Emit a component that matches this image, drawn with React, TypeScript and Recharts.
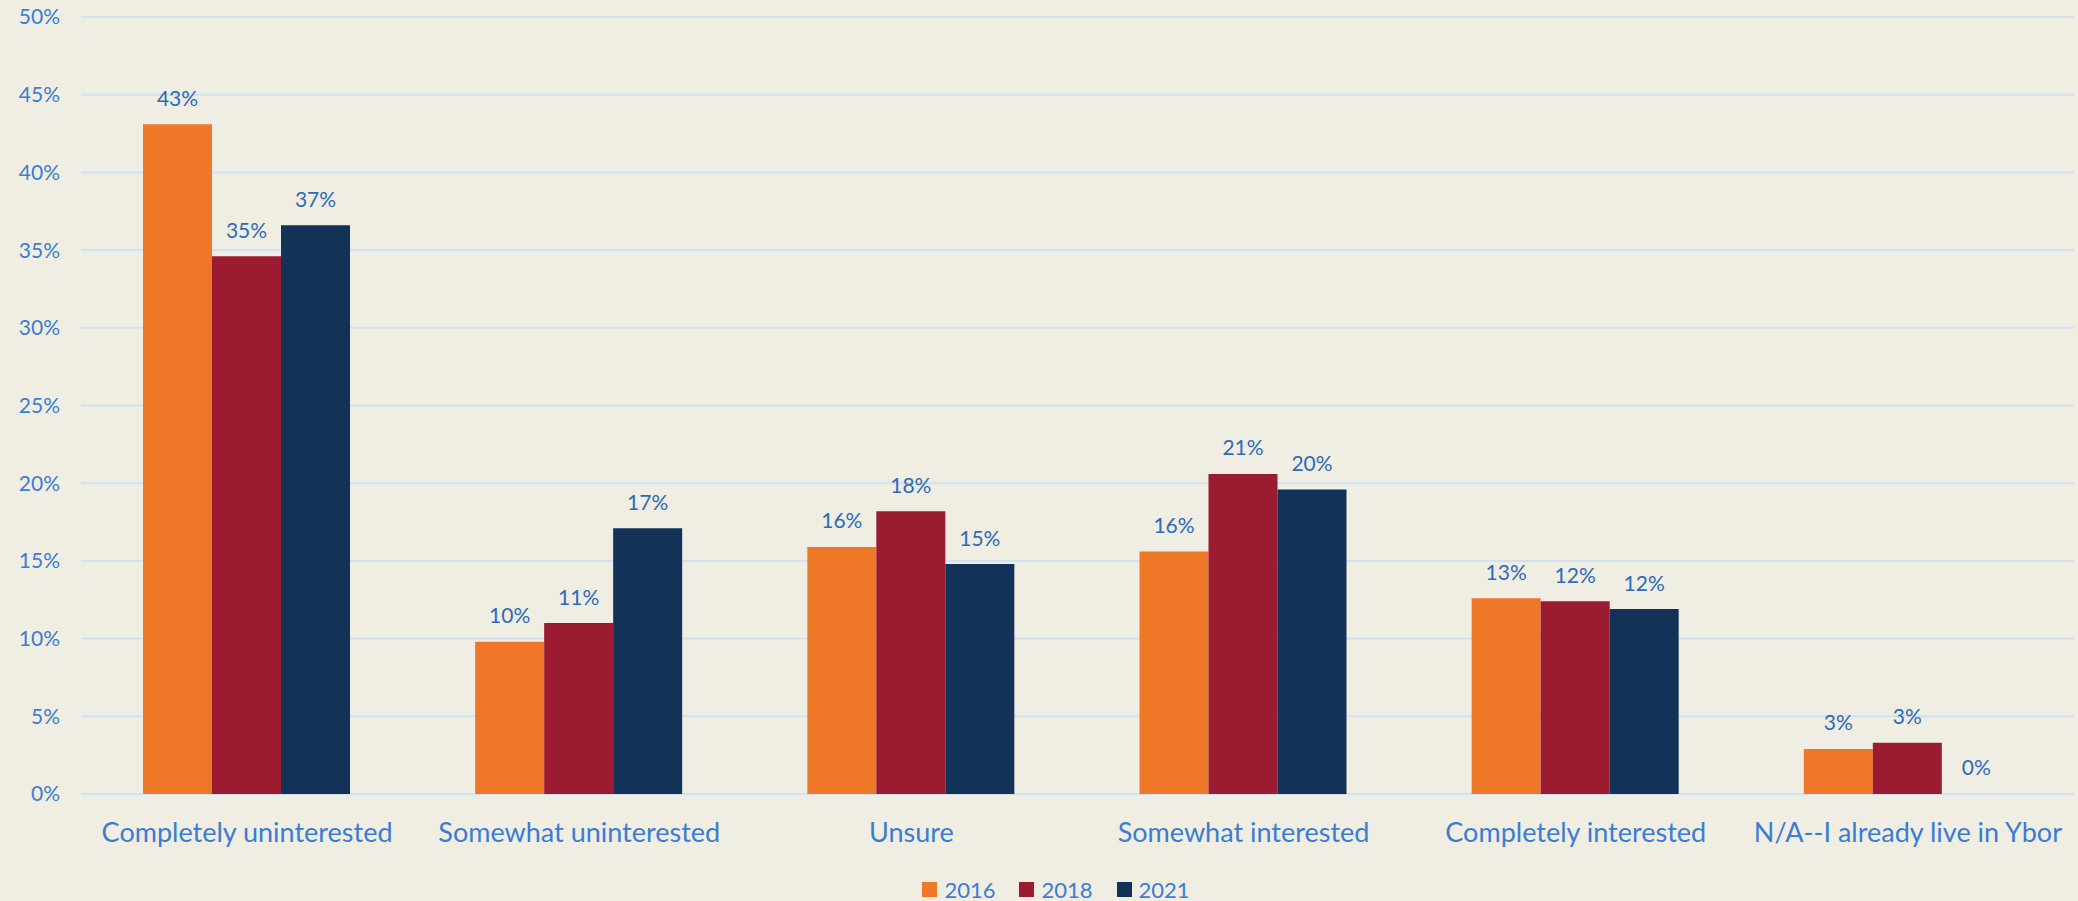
import { Bar, BarChart, CartesianGrid, LabelList, Legend, XAxis, YAxis } from "recharts";

const categories = [
  "Completely uninterested",
  "Somewhat uninterested",
  "Unsure",
  "Somewhat interested",
  "Completely interested",
  "N/A--I already live in Ybor"
];
const y2016 = [43.1, 9.8, 15.9, 15.6, 12.6, 2.9];
const y2018 = [34.6, 11.0, 18.2, 20.6, 12.4, 3.3];
const y2021 = [36.6, 17.1, 14.8, 19.6, 11.9, 0];
const yTicks = [0, 5, 10, 15, 20, 25, 30, 35, 40, 45, 50];

const series = [
  { key: "2016", color: "#EE7828" },
  { key: "2018", color: "#9B1C31" },
  { key: "2021", color: "#123257" }
];

const FONT = "Lato, 'Open Sans', sans-serif";
const AXIS_BLUE = "#3A7DD2";
const LABEL_BLUE = "#2D6BB7";

const data = categories.map((name, i) => ({
  name,
  "2016": y2016[i],
  "2018": y2018[i],
  "2021": y2021[i]
}));

const pct = (v: number) => `${Math.round(Number(v))}%`;

function CategoryTick({ x, y, payload }: any) {
  return (
    <text
      x={x}
      y={y + 29}
      textAnchor="middle"
      dominantBaseline="central"
      fill={AXIS_BLUE}
      fontSize={27}
      fontFamily={FONT}
    >
      {payload.value}
    </text>
  );
}

// drawn by hand so that a zero-height bar still gets its "0%"
function ValueLabel({ x, y, width, value }: any) {
  if (value == null) return null;
  return (
    <text
      x={Number(x) + Number(width) / 2}
      y={Number(y) - 27}
      textAnchor="middle"
      dominantBaseline="central"
      fill={LABEL_BLUE}
      fontSize={21}
      fontFamily={FONT}
    >
      {pct(value)}
    </text>
  );
}

function LegendRow() {
  return (
    <div
      style={{
        display: "flex",
        justifyContent: "center",
        gap: 24,
        height: 24,
        alignItems: "center",
        paddingLeft: 38,
        fontFamily: FONT
      }}
    >
      {series.map((s) => (
        <div key={s.key} style={{ display: "flex", alignItems: "center", gap: 7 }}>
          <span style={{ width: 15, height: 15, background: s.color, display: "inline-block" }} />
          <span style={{ color: AXIS_BLUE, fontSize: 22 }}>{s.key}</span>
        </div>
      ))}
    </div>
  );
}

export default function App() {
  return (
    <div style={{ position: "absolute", left: 0, top: 0, width: 2078, height: 901, background: "#F0EDE3" }}>
      <BarChart
        width={2078}
        height={901}
        data={data}
        margin={{ top: 17, right: 4, left: 0, bottom: 0 }}
        barCategoryGap={62}
        barGap={0}
      >
        <CartesianGrid stroke="#CFE1F3" strokeWidth={2} vertical={false} />
        <XAxis
          dataKey="name"
          tick={<CategoryTick />}
          axisLine={false}
          tickLine={false}
          height={83}
          interval={0}
        />
        <YAxis
          domain={[0, 50]}
          ticks={yTicks}
          tickFormatter={(v) => `${v}%`}
          tick={{ fill: AXIS_BLUE, fontSize: 21, fontFamily: FONT }}
          axisLine={false}
          tickLine={false}
          tickMargin={15}
          width={81}
        />
        <Legend verticalAlign="bottom" content={<LegendRow />} />
        {series.map((s) => (
          <Bar key={s.key} dataKey={s.key} fill={s.color} minPointSize={0.01} isAnimationActive={false}>
            <LabelList dataKey={s.key} content={<ValueLabel />} />
          </Bar>
        ))}
      </BarChart>
    </div>
  );
}
